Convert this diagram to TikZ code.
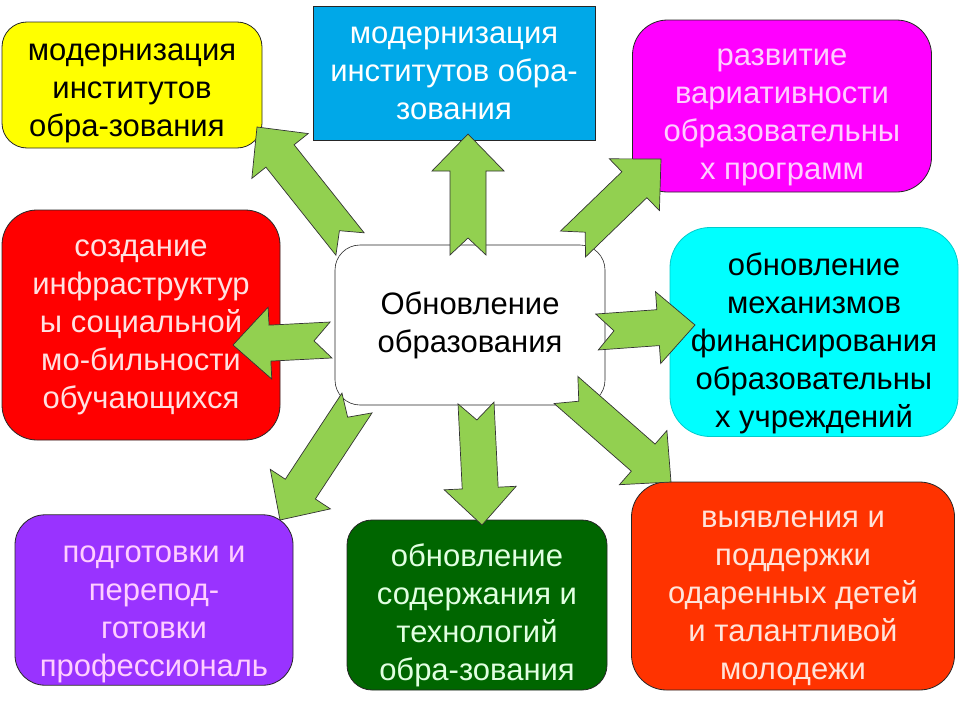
\documentclass[tikz,border=0pt]{standalone}
\usepackage{fontspec}
\setmainfont{Liberation Sans}
\usetikzlibrary{calc}
\definecolor{arrowgreen}{RGB}{146,208,80}
\definecolor{boxyellow}{RGB}{255,255,0}
\definecolor{boxblue}{RGB}{0,168,232}
\definecolor{boxmagenta}{RGB}{255,0,255}
\definecolor{boxred}{RGB}{255,0,0}
\definecolor{boxcyan}{RGB}{0,255,255}
\definecolor{boxpurple}{RGB}{153,51,255}
\definecolor{boxgreen}{RGB}{0,102,0}
\definecolor{boxorange}{RGB}{255,51,0}
\definecolor{pinktext}{RGB}{255,206,255}
\definecolor{rosetext}{RGB}{255,225,225}
\definecolor{mintext}{RGB}{225,255,225}
\definecolor{peachtext}{RGB}{255,228,218}
\tikzset{
  box/.style      ={draw=black!85, line width=0.8pt, rounded corners=28pt,
                    align=center, inner sep=2pt, font=\fontsize{31}{38}\selectfont},
  centre/.style   ={box, fill=white, rounded corners=25pt},
  garrow/.style   ={fill=arrowgreen, draw=black!80, line width=0.7pt, line join=miter},
}
% taller first line, pushes the text block down in its box
\newcommand{\lift}[1]{\rule{0pt}{#1}}
% block arrow with a notched tail: name, tail, tip
\newcommand{\arrshaft}{18pt}
\newcommand{\arrwing}{36pt}
\newcommand{\arrhead}{37pt}
\newcommand{\arrnotch}{17pt}
\newcommand{\notcharrow}[3]{%
  \coordinate (#1-h) at ($(#3)!\arrhead!(#2)$);
  \draw[garrow] ($(#2)!\arrshaft!90:(#3)$)
    -- ($(#1-h)!\arrshaft!-90:(#2)$)
    -- ($(#1-h)!\arrwing!-90:(#2)$)
    -- (#3)
    -- ($(#1-h)!\arrwing!90:(#2)$)
    -- ($(#1-h)!\arrshaft!90:(#2)$)
    -- ($(#2)!\arrshaft!-90:(#3)$)
    -- ($(#2)!\arrnotch!(#3)$) -- cycle;}

\begin{document}
\begin{tikzpicture}[x=1pt, y=-1pt]
  \useasboundingbox[fill=white] (0,0) rectangle (960,720);

  % ---- outer boxes ---------------------------------------------------
  \node[box, fill=boxyellow, text=black, minimum width=260pt, minimum height=126pt,
        rounded corners=25pt] (inst) at (132,85)
        {\lift{33pt}модернизация\\институтов\\обра-зования\,\,};
  \node[box, fill=boxblue, text=white, rounded corners=0pt,
        minimum width=282pt, minimum height=134pt] (instb) at (454,73)
        {модернизация\\институтов обра-\\зования};
  \node[box, fill=boxmagenta, text=pinktext, minimum width=299pt, minimum height=172pt,
        rounded corners=35pt] (var) at (782,106)
        {\lift{39pt}развитие\\вариативности\\образовательны\\х программ};
  \node[box, fill=boxred, text=rosetext, minimum width=278pt, minimum height=230pt,
        rounded corners=35pt] (soc) at (141,325)
        {\lift{22pt}создание\\инфраструктур\\ы социальной\\мо-бильности\\обучающихся};
  \node[box, fill=boxcyan, draw=boxcyan!80!black, text=black, minimum width=288pt,
        minimum height=209pt, rounded corners=40pt] (fin) at (814,332)
        {\lift{45pt}обновление\\механизмов\\финансирования\\образовательны\\х учреждений};
  \node[box, fill=boxpurple, text=pinktext, minimum width=278pt, minimum height=166pt,
        rounded corners=30pt] (prof) at (154,600)
        {\lift{46pt}подготовки и\\перепод-\\готовки\\профессиональ};
  \node[box, fill=boxgreen, text=mintext, minimum width=260pt, minimum height=170pt,
        rounded corners=25pt] (tech) at (477,605)
        {\lift{43pt}обновление\\содержания и\\технологий\\обра-зования};
  \node[box, fill=boxorange, text=peachtext, minimum width=323pt, minimum height=208pt,
        rounded corners=35pt] (gift) at (793,586)
        {\lift{41pt}выявления и\\поддержки\\одаренных детей\\и талантливой\\молодежи};

  % ---- centre --------------------------------------------------------
  \node[centre, minimum width=270pt, minimum height=160pt, line width=0.6pt] (upd) at (470,325)
        {Обновление\\образования};

  % ---- arrows out of the centre -------------------------------------
  \coordinate (nw-t) at (350,244);  \coordinate (nw-e) at (257,127);
  \coordinate (n-t)  at (468,255);  \coordinate (n-e)  at (468,134);
  \coordinate (ne-t) at (573,244);  \coordinate (ne-e) at (661,159);
  \coordinate (e-t)  at (597,332);  \coordinate (e-e)  at (695,325);
  \coordinate (w-t)  at (331,340);  \coordinate (w-e)  at (233,345);
  \coordinate (sw-t) at (357,403);  \coordinate (sw-e) at (280,520);
  \coordinate (s-t)  at (476,403);  \coordinate (s-e)  at (482,525);
  \coordinate (se-t) at (566,390);  \coordinate (se-e) at (671,482);

  \notcharrow{nw}{nw-t}{nw-e}
  \notcharrow{n}{n-t}{n-e}
  \notcharrow{ne}{ne-t}{ne-e}
  \notcharrow{e}{e-t}{e-e}
  \notcharrow{w}{w-t}{w-e}
  \notcharrow{sw}{sw-t}{sw-e}
  \notcharrow{s}{s-t}{s-e}
  \notcharrow{se}{se-t}{se-e}
\end{tikzpicture}
\end{document}
